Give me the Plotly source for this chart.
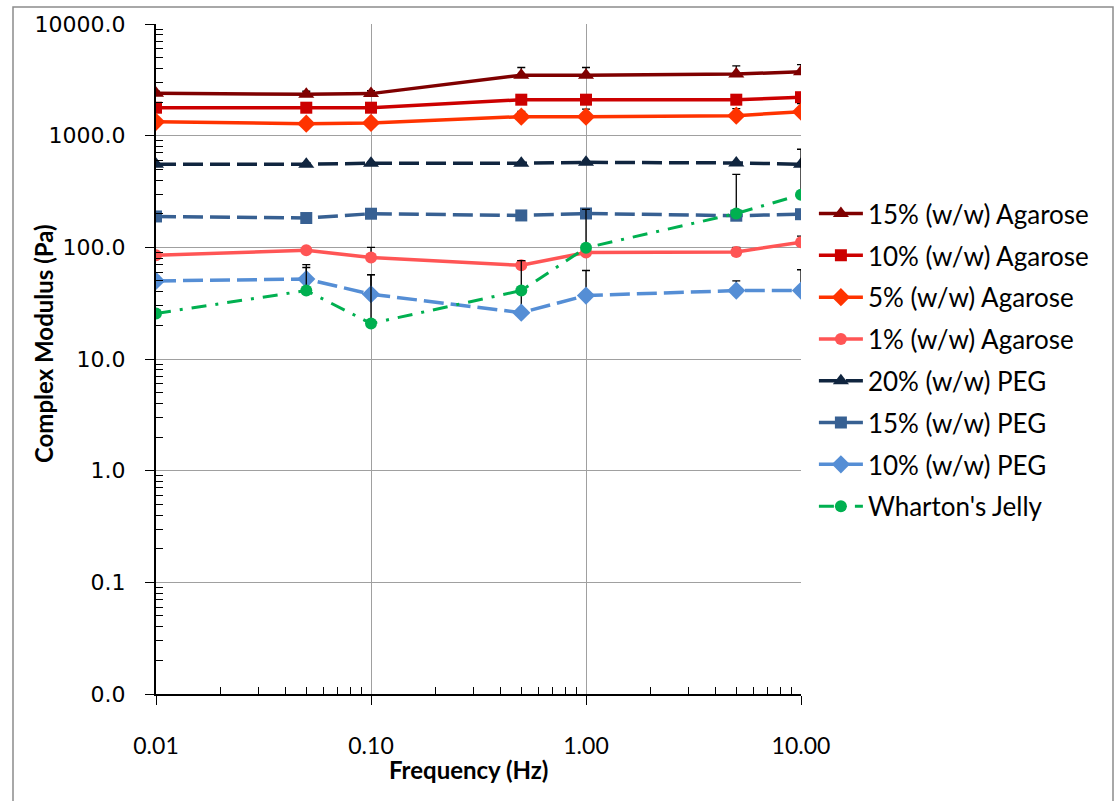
import plotly.graph_objects as go

# ---------------- data ----------------
freq = [0.01, 0.05, 0.1, 0.5, 1, 5, 10]

agar15 = [2400, 2350, 2380, 3480, 3480, 3560, 3730]
agar15_err = [100, 150, 150, 600, 600, 650, 600]

agar10 = [1780, 1780, 1780, 2100, 2100, 2100, 2210]
agar10_err = [50, 60, 60, 130, 80, 80, 80]

agar5 = [1330, 1280, 1300, 1480, 1480, 1510, 1640]
agar5_err = [40, 50, 50, 170, 250, 240, 300]

agar1 = [85, 94, 81, 69, 90, 91, 111]
agar1_err = [4, 3, 19, 7, 3, 9, 15]

peg20 = [555, 555, 566, 566, 577, 570, 555]
peg20_err = [15, 15, 15, 15, 15, 15, 15]

peg15 = [189, 183, 200, 193, 201, 192, 198]
peg15_err = [10, 5, 10, 5, 10, 5, 16]

peg10 = [50, 52, 38, 26, 37, 41, 41]
peg10_err = [5, 18, 19, 50, 25, 9, 22]

wharton = [25.6, 41, 20.8, 41, 99, 201, 296]
wharton_err = [0, 25, 36, 0, 120, 250, 460]

y_tickvals = [0.01, 0.1, 1, 10, 100, 1000, 10000]
y_ticktext = ["0.0", "0.1", "1.0", "10.0", "100.0", "1000.0", "10000.0"]
x_tickvals = [0.01, 0.1, 1, 10]
x_ticktext = ["0.01", "0.10", "1.00", "10.00"]

series = [
    ("15% (w/w) Agarose", agar15, agar15_err, "#7F0000", "solid", "triangle-up", 14, 3.5),
    ("10% (w/w) Agarose", agar10, agar10_err, "#CC0000", "solid", "square", 12, 3.5),
    ("5% (w/w) Agarose", agar5, agar5_err, "#FF3300", "solid", "diamond", 14, 3.5),
    ("1% (w/w) Agarose", agar1, agar1_err, "#FF5555", "solid", "circle", 12, 3.5),
    ("20% (w/w) PEG", peg20, peg20_err, "#10253F", "20px,7px", "triangle-up", 14, 3.5),
    ("15% (w/w) PEG", peg15, peg15_err, "#376092", "20px,7px", "square", 12, 3.5),
    ("10% (w/w) PEG", peg10, peg10_err, "#558ED5", "20px,7px", "diamond", 14, 3.5),
    ("Wharton's Jelly", wharton, wharton_err, "#00B050", "15px,9px,3px,9px", "circle", 12, 3),
]

fig = go.Figure()
for i, (name, vals, err, color, dash, sym, msize, lw) in enumerate(series):
    fig.add_trace(go.Scatter(
        x=freq, y=vals, name=name, mode="lines+markers",
        legendgroup=f"g{i}",
        line=dict(color=color, width=lw, dash=dash),
        marker=dict(symbol=sym, size=msize, color=color),
        error_y=dict(type="data", symmetric=False, array=err,
                     arrayminus=[0] * len(err), color="black",
                     thickness=1.3, width=4),
    ))

fig.update_layout(
    width=1115, height=801,
    margin=dict(l=156, r=314, t=22, b=107),
    paper_bgcolor="white", plot_bgcolor="white",
    font=dict(family="Lato", color="black"),
    showlegend=True,
    legend=dict(x=1.02, xanchor="left", y=0.752, yanchor="top",
                font=dict(family="Lato", size=26, color="black"),
                tracegroupgap=5, itemwidth=44,
                bgcolor="rgba(0,0,0,0)"),
    xaxis=dict(type="log", range=[-2, 1],
               tickmode="array", tickvals=x_tickvals, ticktext=x_ticktext,
               showgrid=True, gridcolor="#A0A0A0", gridwidth=1,
               showline=True, linecolor="black", linewidth=2,
               ticks="outside", ticklen=9, tickcolor="black", tickwidth=1,
               ticklabelstandoff=21,
               tickfont=dict(family="Lato", size=23, color="black"),
               minor=dict(ticks="inside", ticklen=7, tickcolor="black",
                          tickmode="array",
                          tickvals=[m * 10 ** e for e in (-2, -1, 0) for m in range(2, 10)],
                          showgrid=False),
               zeroline=False),
    yaxis=dict(type="log", range=[-2, 4],
               tickmode="array", tickvals=y_tickvals, ticktext=y_ticktext,
               showgrid=True, gridcolor="#A0A0A0", gridwidth=1,
               showline=True, linecolor="black", linewidth=2,
               ticks="outside", ticklen=9, tickcolor="black", tickwidth=1,
               ticklabelstandoff=15,
               tickfont=dict(family="DejaVu Sans", size=22, color="black"),
               minor=dict(ticks="inside", ticklen=7, tickcolor="black",
                          tickmode="array",
                          tickvals=[m * 10 ** e for e in range(-2, 4) for m in range(2, 10)],
                          showgrid=False),
               zeroline=False),
    annotations=[
        dict(text="<b>Frequency (Hz)</b>", xref="paper", yref="paper",
             x=(468 - 156) / 645, y=(694 - 770) / 672, showarrow=False,
             xanchor="center", yanchor="middle",
             font=dict(family="Lato", size=24, color="black")),
        dict(text="<b>Complex Modulus (Pa)</b>", xref="paper", yref="paper",
             x=(43 - 156) / 645, y=(694 - 342) / 672, showarrow=False,
             textangle=-90, xanchor="center", yanchor="middle",
             font=dict(family="Lato", size=24, color="black")),
    ],
    shapes=[
        dict(type="rect", xref="paper", yref="paper",
             x0=(13 - 156) / 645, x1=(1113 - 156) / 645,
             y0=(694 - 805) / 672, y1=(694 - 5) / 672,
             line=dict(color="#8C8C8C", width=1.5), layer="below"),
    ],
)

fig.write_html("out.html")
